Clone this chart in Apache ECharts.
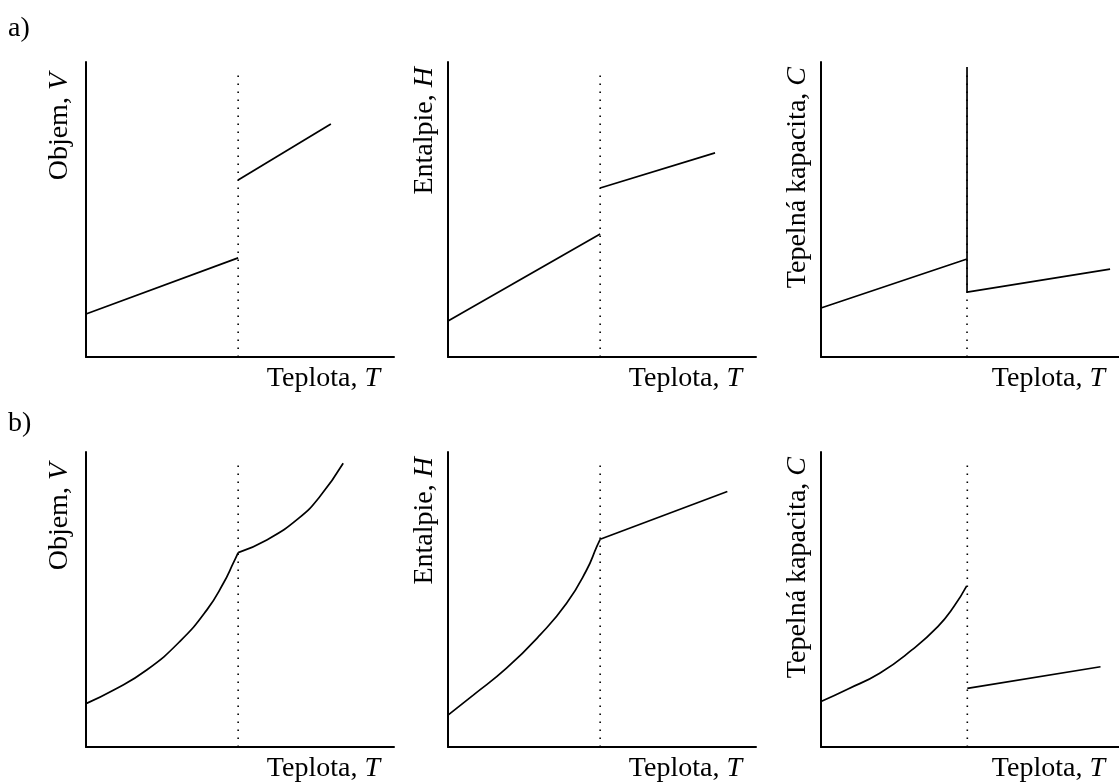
<!DOCTYPE html>
<html>
<head>
<meta charset="utf-8">
<script src="https://cdn.jsdelivr.net/npm/echarts@6/dist/echarts.min.js"></script>
<style>
  html, body { margin: 0; padding: 0; background: #fff; }
  #chart { width: 1119px; height: 784px; }
</style>
</head>
<body>
<div id="chart"></div>
<script>
// panel titles
const panelLabels = ["a)", "b)"];
const yNames = ["Objem, {i|V}", "Entalpie, {i|H}", "Tepelná kapacita, {i|C}"];
const xName = "Teplota, {i|T}";

// glass transition temperature (x position of dotted line) per panel, top row / bottom row
const tgTop = [49.4, 49.4, 49.0];
const tgBottom = [49.4, 49.4, 49.1];
const dotTop = 96.6;

// a) first-order transition
const aVolLow = [[0, 14.6], [49.4, 33.6]];
const aVolHigh = [[49.4, 60.0], [79.5, 79.0]];
const aEntLow = [[0, 12.2], [49.4, 41.7]];
const aEntHigh = [[49.4, 57.3], [86.7, 69.2]];
const aCap = [[0, 16.6], [49.0, 33.2], [49.0, 98.3], [49.0, 22.0], [97, 29.8]];

// b) second-order transition
const bVolLow = [[0, 14.7], [9.0, 19.3], [19.7, 26.1], [30.5, 35.8], [39.2, 46.4], [44.6, 55.5], [47.8, 62.3], [49.4, 65.9]];
const bVolHigh = [[49.4, 65.9], [58.7, 70.2], [69.0, 77.5], [76.0, 85.0], [83.5, 96.2]];
const bEntLow = [[0, 10.8], [8.2, 17.6], [19.0, 26.7], [29.9, 38.0], [38.5, 48.7], [45.0, 60.0], [48.3, 67.9], [49.4, 70.4]];
const bEntHigh = [[49.4, 70.4], [90.7, 86.6]];
const bCapLow = [[0, 15.4], [8.9, 19.6], [19.7, 25.0], [30.5, 32.9], [39.2, 40.8], [44.6, 47.6], [48.9, 54.6]];
const bCapHigh = [[49.1, 19.9], [93.8, 27.2]];

const FONT = "Liberation Serif";
const lefts = [86, 448, 821];
const tops = [62, 452];
const yPad = [12, 9, 9];

const chart = echarts.init(document.getElementById("chart"));

const rich = {
  n: { fontFamily: FONT, fontSize: 28, color: "#000" },
  i: { fontFamily: FONT, fontSize: 28, color: "#000", fontStyle: "italic" },
};

const grid = [];
const xAxis = [];
const yAxis = [];
tops.forEach((t) => {
  lefts.forEach((l, c) => {
    grid.push({ left: l, top: t, width: 308, height: 295 });
    const idx = grid.length - 1;
    xAxis.push({
      type: "value", gridIndex: idx, min: 0, max: 100,
      axisLine: { lineStyle: { color: "#000", width: 2 } },
      axisTick: { show: false }, axisLabel: { show: false }, splitLine: { show: false },
      name: "{n|" + xName.replace("{i|", "}{i|"),
      nameLocation: "end", nameGap: -14,
      nameTextStyle: { align: "right", verticalAlign: "top", padding: [8, 0, 0, 0], rich: rich },
    });
    const yn = yNames[c];
    yAxis.push({
      type: "value", gridIndex: idx, min: 0, max: 100,
      axisLine: { lineStyle: { color: "#000", width: 2 } },
      axisTick: { show: false }, axisLabel: { show: false }, splitLine: { show: false },
      name: "{n|" + yn.replace("{i|", "}{i|"),
      nameLocation: "end", nameGap: c === 0 ? -11 : -5, nameRotate: 90,
      nameTextStyle: { align: "right", verticalAlign: "bottom", padding: [0, 0, yPad[c], 0], rich: rich },
    });
  });
});

const solid = (data, idx, smooth) => ({
  type: "line", xAxisIndex: idx, yAxisIndex: idx, data: data,
  symbol: "none", smooth: smooth ? 0.5 : false,
  lineStyle: { color: "#000", width: 1.7 },
  silent: true, z: 3,
});
const dotted = (tg, idx) => ({
  type: "line", xAxisIndex: idx, yAxisIndex: idx,
  data: [[tg, 0], [tg, dotTop]],
  symbol: "none",
  lineStyle: { color: "#000", width: 1.6, type: [1.6, 6.4], cap: "butt" },
  silent: true, z: 2,
});

const series = [
  dotted(tgTop[0], 0), solid(aVolLow, 0), solid(aVolHigh, 0),
  dotted(tgTop[1], 1), solid(aEntLow, 1), solid(aEntHigh, 1),
  dotted(tgTop[2], 2), solid(aCap, 2),
  dotted(tgBottom[0], 3), solid(bVolLow, 3, true), solid(bVolHigh, 3, true),
  dotted(tgBottom[1], 4), solid(bEntLow, 4, true), solid(bEntHigh, 4),
  dotted(tgBottom[2], 5), solid(bCapLow, 5, true), solid(bCapHigh, 5),
];

const option = {
  animation: false,
  backgroundColor: "#fff",
  title: [
    { text: panelLabels[0], left: 8, top: 15, padding: 0, textStyle: { fontFamily: FONT, fontSize: 28, fontWeight: "normal", color: "#000" } },
    { text: panelLabels[1], left: 8, top: 410, padding: 0, textStyle: { fontFamily: FONT, fontSize: 28, fontWeight: "normal", color: "#000" } },
  ],
  grid: grid,
  xAxis: xAxis,
  yAxis: yAxis,
  series: series,
};

chart.setOption(option);
</script>
</body>
</html>
